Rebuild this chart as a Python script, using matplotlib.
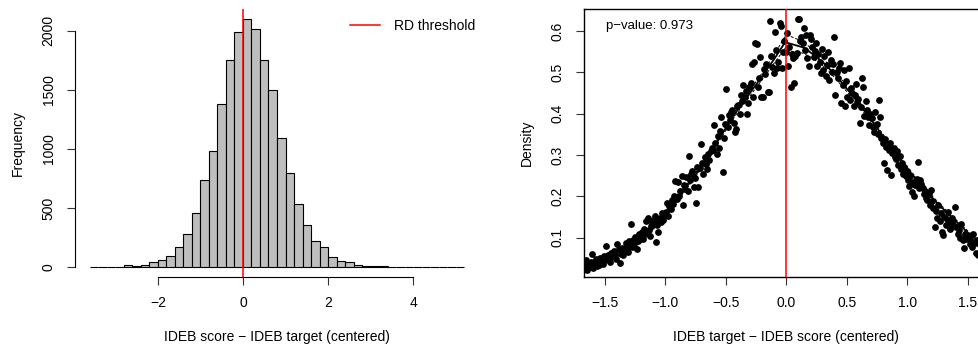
import numpy as np
import matplotlib
matplotlib.use("Agg")
import matplotlib.pyplot as plt

plt.rcParams['font.family'] = ['Liberation Sans', 'DejaVu Sans']
plt.rcParams['axes.unicode_minus'] = True

# ---------------- histogram of the running variable ----------------
hist_left_edges = [-3.6, -3.4, -3.2, -3.0, -2.8, -2.6, -2.4, -2.2, -2.0, -1.8,
                   -1.6, -1.4, -1.2, -1.0, -0.8, -0.6, -0.4, -0.2,
                   0.0, 0.2, 0.4, 0.6, 0.8, 1.0, 1.2, 1.4, 1.6, 1.8,
                   2.0, 2.2, 2.4, 2.6, 2.8, 3.0, 3.2, 3.4, 3.6, 3.8,
                   4.0, 4.2, 4.4, 4.6, 4.8, 5.0]
hist_counts = [1, 1, 2, 3, 14, 8, 17, 42, 59, 96,
               166, 276, 457, 739, 982, 1379, 1752, 1989,
               2099, 2011, 1752, 1501, 1094, 795, 533, 355, 223, 169,
               82, 51, 39, 20, 11, 11, 6, 3, 2, 1,
               1, 1, 2, 1, 1, 1]
hist_bin_width = 0.2
hist_xticks = [-2, 0, 2, 4]
hist_yticks = [0, 500, 1000, 1500, 2000]

# ---------------- McCrary density test ----------------
p_value = 0.973
bin_step = 0.01
left_start = -1.665
right_start = 0.005

left_density = [
    0.028, 0.045, 0.022, 0.036, 0.030, 0.041, 0.060,
    0.026, 0.038, 0.048, 0.031, 0.044, 0.035, 0.052, 0.042, 0.036, 0.055,
    0.047, 0.080, 0.058, 0.050, 0.041, 0.063, 0.055, 0.068, 0.059, 0.049,
    0.085, 0.072, 0.038, 0.060, 0.075, 0.058, 0.070, 0.088, 0.078, 0.066,
    0.092, 0.132, 0.077, 0.095, 0.086, 0.102, 0.072, 0.093, 0.108, 0.098,
    0.113, 0.096, 0.120, 0.108, 0.141, 0.147, 0.118, 0.104, 0.128, 0.137,
    0.143, 0.152, 0.089, 0.130, 0.113, 0.148, 0.137, 0.160, 0.142, 0.158,
    0.163, 0.185, 0.152, 0.176, 0.170, 0.190, 0.182, 0.200, 0.236, 0.193,
    0.235, 0.200, 0.214, 0.250, 0.179, 0.228, 0.218, 0.248, 0.212, 0.298,
    0.240, 0.255, 0.262, 0.222, 0.244, 0.185, 0.272, 0.222, 0.268, 0.326,
    0.280, 0.254, 0.295, 0.278, 0.265, 0.302, 0.288, 0.310, 0.318, 0.312,
    0.373, 0.330, 0.302, 0.345, 0.318, 0.358, 0.392, 0.260, 0.340, 0.376,
    0.459, 0.368, 0.397, 0.385, 0.405, 0.410, 0.378, 0.356, 0.362, 0.418,
    0.420, 0.398, 0.445, 0.430, 0.470, 0.440, 0.455, 0.400, 0.425, 0.465,
    0.473, 0.520, 0.441, 0.525, 0.572, 0.568, 0.465, 0.485, 0.538, 0.441,
    0.441, 0.508, 0.495, 0.520, 0.453, 0.453, 0.625, 0.540, 0.512, 0.498,
    0.598, 0.555, 0.510, 0.526, 0.618, 0.612, 0.510, 0.550, 0.575, 0.548,
]
right_density = [
    0.594, 0.514, 0.560, 0.465, 0.545, 0.534, 0.473, 0.540, 0.546, 0.628,
    0.628, 0.575, 0.585, 0.570, 0.606, 0.555, 0.590, 0.535, 0.514, 0.590,
    0.580, 0.560, 0.538, 0.552, 0.570, 0.515, 0.545, 0.525, 0.498, 0.556,
    0.505, 0.540, 0.490, 0.518, 0.550, 0.482, 0.530, 0.500, 0.520, 0.586,
    0.445, 0.500, 0.485, 0.510, 0.523, 0.425, 0.470, 0.505, 0.418, 0.480,
    0.440, 0.510, 0.432, 0.462, 0.450, 0.418, 0.445, 0.472, 0.425, 0.436,
    0.377, 0.415, 0.485, 0.465, 0.395, 0.430, 0.408, 0.392, 0.372, 0.400,
    0.390, 0.368, 0.355, 0.405, 0.375, 0.350, 0.433, 0.393, 0.340, 0.330,
    0.280, 0.338, 0.320, 0.264, 0.312, 0.330, 0.252, 0.305, 0.318, 0.295,
    0.290, 0.310, 0.275, 0.298, 0.265, 0.280, 0.255, 0.270, 0.250, 0.262,
    0.240, 0.225, 0.250, 0.210, 0.235, 0.200, 0.228, 0.242, 0.284, 0.220,
    0.240, 0.230, 0.219, 0.205, 0.212, 0.195, 0.190, 0.205, 0.180, 0.215,
    0.188, 0.172, 0.127, 0.165, 0.148, 0.178, 0.140, 0.160, 0.115, 0.106,
    0.150, 0.130, 0.145, 0.162, 0.135, 0.120, 0.148, 0.140, 0.128, 0.175,
    0.125, 0.108, 0.118, 0.100, 0.132, 0.095, 0.074, 0.110, 0.098, 0.105,
    0.100, 0.085, 0.093, 0.078, 0.110, 0.088, 0.062, 0.095, 0.058, 0.082,
    0.075, 0.055, 0.090, 0.068, 0.060,
]

# fitted local-linear density on each side of the cutoff, with 95% bands
fit_left_x = [-1.7, -1.6, -1.5, -1.4, -1.3, -1.2, -1.1, -1.0, -0.9, -0.8,
              -0.7, -0.6, -0.5, -0.4, -0.3, -0.2, -0.1, 0.0]
fit_left_y = [0.031, 0.040, 0.052, 0.066, 0.083, 0.101, 0.124, 0.156, 0.193, 0.232,
              0.272, 0.318, 0.365, 0.410, 0.450, 0.490, 0.532, 0.577]
fit_left_hw = [0.004, 0.004, 0.004, 0.004, 0.004, 0.004, 0.004, 0.004, 0.004, 0.005,
               0.005, 0.005, 0.006, 0.006, 0.007, 0.008, 0.010, 0.015]
fit_right_x = [0.0, 0.14, 0.2, 0.3, 0.4, 0.5, 0.6, 0.7, 0.8, 0.9,
               1.0, 1.1, 1.2, 1.3, 1.4, 1.5, 1.6, 1.7]
fit_right_y = [0.572, 0.560, 0.548, 0.525, 0.495, 0.460, 0.424, 0.385, 0.345, 0.305,
               0.267, 0.232, 0.198, 0.168, 0.140, 0.112, 0.088, 0.068]
fit_right_hw = [0.019, 0.014, 0.011, 0.009, 0.008, 0.007, 0.006, 0.005, 0.005, 0.004,
                0.004, 0.004, 0.004, 0.004, 0.004, 0.004, 0.004, 0.004]
dens_xticks = [-1.5, -1.0, -0.5, 0.0, 0.5, 1.0, 1.5]
dens_yticks = [0.1, 0.2, 0.3, 0.4, 0.5, 0.6]

W, H = 979, 348
fig = plt.figure(figsize=(W / 100, H / 100), dpi=100)
FS = 10
tick_len = 6


def frac(x0, y0, x1, y1):
    return [x0 / W, 1 - y1 / H, (x1 - x0) / W, (y1 - y0) / H]


# ---------------- left panel ----------------
ax1 = fig.add_axes(frac(75, 9, 479, 277))
ax1.bar(hist_left_edges, hist_counts, width=hist_bin_width, align='edge',
        color='#BEBEBE', edgecolor='black', linewidth=0.8, zorder=2)
ax1.axvline(0, color='red', linewidth=1.1, zorder=3, label='RD threshold')
ax1.set_xlim(-3.952, 5.552)
ax1.set_ylim(-84, 2184)
for s in ['top', 'right']:
    ax1.spines[s].set_visible(False)
ax1.spines['left'].set_bounds(0, 2000)
ax1.spines['bottom'].set_bounds(-2, 4)
ax1.set_xticks(hist_xticks)
ax1.set_xticklabels([f"{t}".replace('-', '\u2212') for t in hist_xticks])
ax1.set_yticks(hist_yticks)
ax1.set_yticklabels([str(t) for t in hist_yticks], rotation=90, va='center')
ax1.tick_params(axis='both', length=tick_len, width=0.8, labelsize=FS, pad=8,
                color='#333333')
ax1.set_xlabel('IDEB score \u2212 IDEB target (centered)', fontsize=FS, labelpad=14)
ax1.set_ylabel('Frequency', fontsize=FS, labelpad=12)
ax1.legend(loc='upper right', frameon=False, fontsize=FS, handlelength=2.2,
           handletextpad=1.0, bbox_to_anchor=(1.022, 1.01))

# ---------------- right panel ----------------
ax2 = fig.add_axes(frac(584, 9, 988.6, 277))
xl = left_start + bin_step * np.arange(len(left_density))
xr = right_start + bin_step * np.arange(len(right_density))
ax2.scatter(xl, left_density, s=24, color='black', linewidths=0, zorder=3)
ax2.scatter(xr, right_density, s=24, color='black', linewidths=0, zorder=3)

for fx, fy, hw in [(fit_left_x, fit_left_y, fit_left_hw),
                   (fit_right_x, fit_right_y, fit_right_hw)]:
    fx = np.array(fx); fy = np.array(fy); hw = np.array(hw)
    ax2.plot(fx, fy, color='black', linewidth=1.3, zorder=4)
    ax2.plot(fx, fy + hw, color='black', linewidth=0.7, linestyle=(0, (3, 2)), zorder=4)
    ax2.plot(fx, fy - hw, color='black', linewidth=0.7, linestyle=(0, (3, 2)), zorder=4)

ax2.axvline(0, color='red', linewidth=1.1, zorder=5)
ax2.set_xlim(-1.67, 1.67)
ax2.set_ylim(0.005, 0.653)
ax2.set_xticks(dens_xticks)
ax2.set_xticklabels([f"{t:.1f}".replace('-', '\u2212') for t in dens_xticks])
ax2.set_yticks(dens_yticks)
ax2.set_yticklabels([f"{t:.1f}" for t in dens_yticks], rotation=90, va='center')
ax2.tick_params(axis='both', length=tick_len, width=0.8, labelsize=FS, pad=8,
                color='#333333')
for s in ax2.spines.values():
    s.set_linewidth(1.0)
ax2.set_xlabel('IDEB target \u2212 IDEB score (centered)', fontsize=FS, labelpad=14)
ax2.set_ylabel('Density', fontsize=FS, labelpad=12)
ax2.text(-1.485, 0.612, f'p\u2212value: {p_value}', fontsize=9.5,
         ha='left', va='center')

fig.savefig('out.png', dpi=100)
